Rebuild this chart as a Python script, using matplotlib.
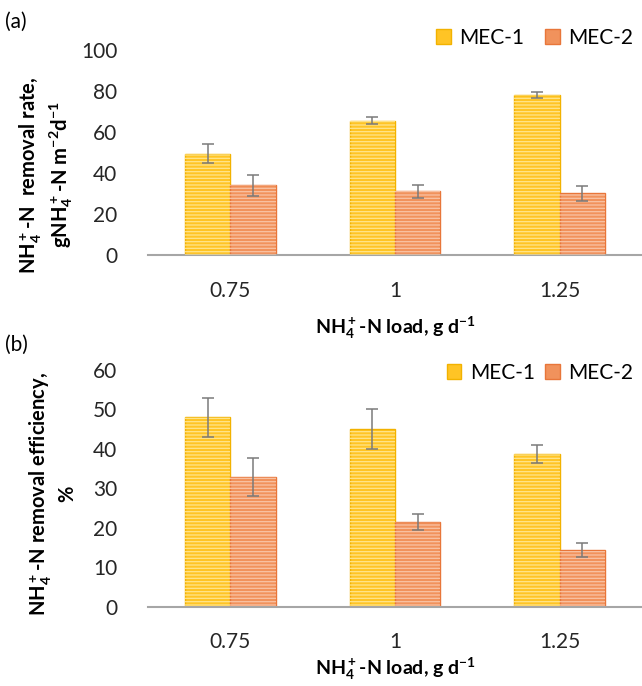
import matplotlib
matplotlib.use("Agg")
import matplotlib.pyplot as plt
import numpy as np

plt.rcParams['font.family'] = ['Lato', 'DejaVu Sans']
plt.rcParams['mathtext.fontset'] = 'custom'
plt.rcParams['mathtext.rm'] = 'Lato:bold'
plt.rcParams['mathtext.bf'] = 'Lato:bold'
plt.rcParams['mathtext.default'] = 'bf'
plt.rcParams['hatch.linewidth'] = 0.9

loads = ['0.75', '1', '1.25']
series = ['MEC-1', 'MEC-2']

# (a) removal rate
rate_mec1 = [49.5, 65.5, 78]
rate_mec1_err = [4.5, 1.8, 1.5]
rate_mec2 = [34, 31, 30]
rate_mec2_err = [5.2, 3, 3.5]

# (b) removal efficiency
eff_mec1 = [48, 45, 38.8]
eff_mec1_err = [5, 5, 2.3]
eff_mec2 = [33, 21.5, 14.5]
eff_mec2_err = [4.8, 2, 1.8]

face = ['#FFC425', '#F1925C']
edge = ['#F2B200', '#E8763A']
stripe = ['#FFE58C', '#F9C3A4']

fig = plt.figure(figsize=(6.42, 6.86), dpi=100)
ax1 = fig.add_axes([0.2305, 0.6283, 0.7695, 0.2988])
ax2 = fig.add_axes([0.2305, 0.1152, 0.7695, 0.3455])

x = np.arange(len(loads))
w = 0.275


def draw(ax, vals, errs, ymax, step, tpad, lpad):
    for i, (v, e) in enumerate(zip(vals, errs)):
        pos = x + (i - 0.5) * w
        ax.bar(pos, v, w, color=face[i], edgecolor=edge[i], linewidth=1,
               label=series[i], zorder=2)
        ax.bar(pos, v, w, facecolor='none', edgecolor=stripe[i],
               linewidth=0, hatch='-----', zorder=3)
        ax.errorbar(pos, v, yerr=e, fmt='none', ecolor='#7A7A7A',
                    elinewidth=1.1, capsize=4, capthick=1.1, zorder=4)
    ax.set_xlim(-0.5, 2.5)
    ax.set_ylim(0, ymax)
    ax.set_yticks(np.arange(0, ymax + 1, step))
    ax.set_xticks(x)
    ax.set_xticklabels(loads)
    for s in ['top', 'right', 'left']:
        ax.spines[s].set_visible(False)
    ax.spines['bottom'].set_color('#A6A6A6')
    ax.spines['bottom'].set_linewidth(1.5)
    ax.tick_params(axis='both', length=0, labelsize=15, colors='#262626')
    ax.tick_params(axis='x', pad=tpad)
    ax.tick_params(axis='y', pad=22)
    ax.set_xlabel('NH$_4^+$-N load, g d$^{-1}$', fontsize=14,
                  fontweight='bold', labelpad=lpad)


draw(ax1, [rate_mec1, rate_mec2], [rate_mec1_err, rate_mec2_err], 100, 20, 19, 10)
draw(ax2, [eff_mec1, eff_mec2], [eff_mec1_err, eff_mec2_err], 60, 10, 18, 3)

ax1.legend(loc='upper right', bbox_to_anchor=(1.02, 1.2), ncol=2, frameon=False,
           fontsize=15, handlelength=0.7, handleheight=0.7, columnspacing=1.0,
           handletextpad=0.4)
ax2.legend(loc='upper right', bbox_to_anchor=(1.02, 1.11), ncol=2, frameon=False,
           fontsize=15, handlelength=0.7, handleheight=0.7, columnspacing=0.5,
           handletextpad=0.4)

fig.text(0.072, 0.745, 'NH$_4^+$-N  removal rate,\ngNH$_4^+$-N m$^{-2}$d$^{-1}$',
         rotation=90, ha='center', va='center', multialignment='center',
         fontsize=14.5, fontweight='bold')
fig.text(0.082, 0.28, 'NH$_4^+$-N removal efficiency,\n%',
         rotation=90, ha='center', va='center', multialignment='center',
         fontsize=14.5, fontweight='bold')

fig.text(0.008, 0.968, '(a)', fontsize=15, va='center')
fig.text(0.008, 0.497, '(b)', fontsize=15, va='center')

fig.savefig('out.png', dpi=100, facecolor='white')
